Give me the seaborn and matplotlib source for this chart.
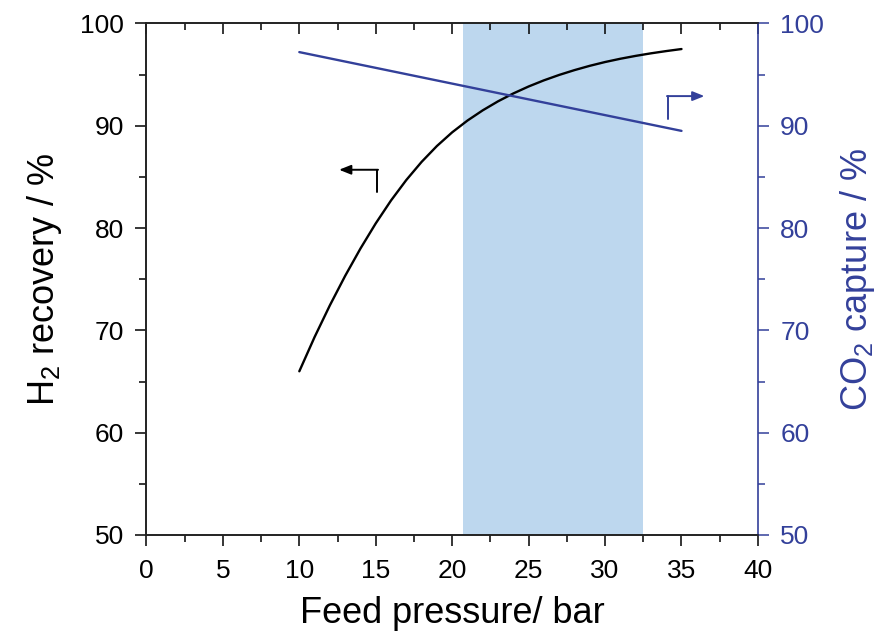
import numpy as np
import pandas as pd
import matplotlib
matplotlib.use('Agg')
import matplotlib.pyplot as plt
import seaborn as sns
from matplotlib.ticker import MultipleLocator

sns.set_style('ticks')
plt.rcParams['font.family'] = ['Liberation Sans', 'DejaVu Sans']
plt.rcParams['mathtext.default'] = 'regular'
plt.rcParams['text.color'] = 'black'
plt.rcParams['axes.labelcolor'] = 'black'
plt.rcParams['xtick.color'] = 'black'
plt.rcParams['ytick.color'] = 'black'

# data
pressure = [10, 11, 12, 13, 14, 15, 16, 17, 18, 19, 20, 21, 22, 23, 24, 25,
            26, 27, 28, 29, 30, 31, 32, 33, 34, 35]
h2_recovery = [66.0, 69.35, 72.45, 75.33, 78.0, 80.46, 82.7, 84.7, 86.47, 88.02,
               89.36, 90.51, 91.51, 92.39, 93.16, 93.84, 94.44, 94.97, 95.44,
               95.86, 96.23, 96.55, 96.83, 97.08, 97.3, 97.5]
co2_pressure = [10, 35]
co2_capture = [97.2, 89.5]
window = (20.7, 32.5)

BLUE = '#33409a'
SHADE = '#bdd7ee'

df_h2 = pd.DataFrame({'p': pressure, 'h2': h2_recovery})
df_co2 = pd.DataFrame({'p': co2_pressure, 'co2': co2_capture})

fig = plt.figure(figsize=(8.94, 6.41), dpi=100)
ax = fig.add_axes([0.1638, 0.1654, 0.684, 0.798])
ax2 = ax.twinx()

ax.axvspan(window[0], window[1], color=SHADE, lw=0, zorder=0)
sns.lineplot(data=df_h2, x='p', y='h2', ax=ax, color='black', lw=1.7)
sns.lineplot(data=df_co2, x='p', y='co2', ax=ax2, color=BLUE, lw=1.7)

ax.set_xlim(0, 40)
ax.set_ylim(50, 100)
ax2.set_ylim(50, 100)
ax.xaxis.set_major_locator(MultipleLocator(5))
ax.xaxis.set_minor_locator(MultipleLocator(2.5))
ax.yaxis.set_major_locator(MultipleLocator(10))
ax.yaxis.set_minor_locator(MultipleLocator(5))
ax2.yaxis.set_major_locator(MultipleLocator(10))
ax2.yaxis.set_minor_locator(MultipleLocator(5))

ax.tick_params(axis='x', which='both', direction='out', top=True, labelsize=19, pad=9)
ax.tick_params(axis='x', which='major', length=8, width=1.1)
ax.tick_params(axis='x', which='minor', length=5, width=1.1)
ax.tick_params(axis='y', which='major', direction='out', length=8, width=1.1,
               labelsize=19, right=False, pad=8)
ax.tick_params(axis='y', which='minor', direction='out', length=5, width=1.1, right=False)
ax2.tick_params(axis='y', which='major', direction='out', length=8, width=1.1,
                labelsize=19, colors=BLUE, pad=8)
ax2.tick_params(axis='y', which='minor', direction='out', length=5, width=1.1, colors=BLUE)

# top ticks point inward
for t in ax.xaxis.get_major_ticks() + ax.xaxis.get_minor_ticks():
    t.tick2line.set_marker(3)

for a in (ax, ax2):
    for s in a.spines.values():
        s.set_linewidth(1.2)
        s.set_color('#222222')
ax2.spines['right'].set_color(BLUE)
ax.spines['right'].set_visible(False)

ax.set_xlabel('Feed pressure/ bar', fontsize=26, labelpad=10)
ax.set_ylabel('H$_2$ recovery / %', fontsize=26, labelpad=12)
ax2.set_ylabel('CO$_2$ capture / %', fontsize=26, labelpad=10, color=BLUE)

# elbow arrows pointing to each axis
ax.plot([15.1, 15.1], [83.5, 85.7], color='black', lw=1.4)
ax.annotate('', xy=(12.6, 85.7), xytext=(15.15, 85.7),
            arrowprops=dict(arrowstyle='-|>,head_length=0.7,head_width=0.28',
                            color='black', lw=1.4, shrinkA=0, shrinkB=0))
ax2.plot([34.1, 34.1], [90.7, 92.9], color=BLUE, lw=1.4)
ax2.annotate('', xy=(36.5, 92.9), xytext=(34.05, 92.9),
             arrowprops=dict(arrowstyle='-|>,head_length=0.7,head_width=0.28',
                             color=BLUE, lw=1.4, shrinkA=0, shrinkB=0))

fig.savefig('out.png', dpi=100)
